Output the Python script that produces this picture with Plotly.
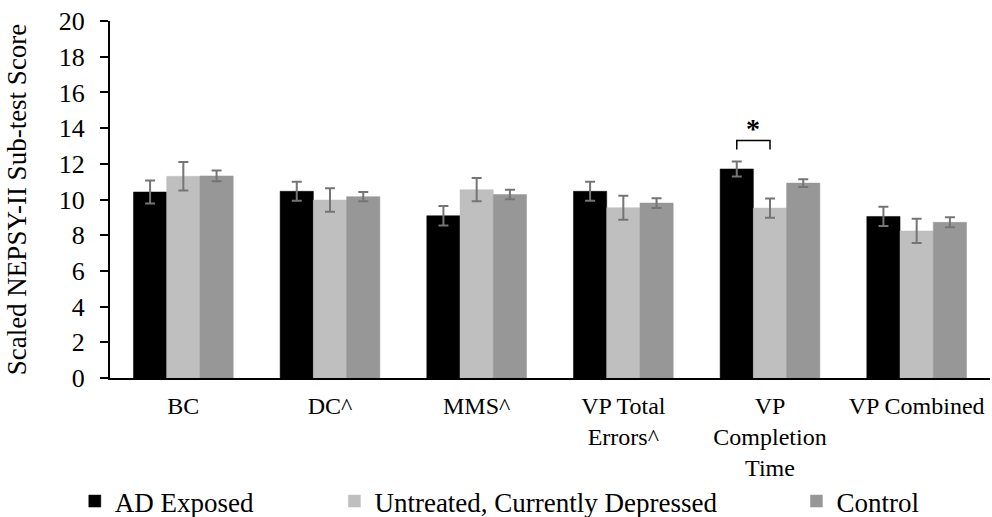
import plotly.graph_objects as go

categories = ["BC", "DC^", "MMS^", "VP Total<br>Errors^", "VP<br>Completion<br>Time", "VP Combined"]
groups = ["AD Exposed", "Untreated, Currently Depressed", "Control"]

ad_exposed = [10.42, 10.46, 9.09, 10.46, 11.71, 9.05]
ad_exposed_err = [0.64, 0.53, 0.55, 0.53, 0.42, 0.54]
untreated = [11.30, 9.97, 10.55, 9.54, 9.52, 8.24]
untreated_err = [0.80, 0.66, 0.65, 0.67, 0.54, 0.68]
control = [11.32, 10.16, 10.28, 9.80, 10.92, 8.72]
control_err = [0.30, 0.26, 0.26, 0.27, 0.22, 0.28]

colors = ["#000000", "#bfbfbf", "#979797"]
y_ticks = list(range(0, 21, 2))

# significance bracket between AD Exposed and Untreated at "VP Completion Time"
sig_category = 4
sig_bracket_y = 13.3
sig_tick_y = 12.8
sig_star_y = 13.95

FONT = "Liberation Serif"

fig = go.Figure()
series = [(ad_exposed, ad_exposed_err), (untreated, untreated_err), (control, control_err)]
legend_ids = ["legend", "legend2", "legend3"]
for name, (vals, errs), col, lg in zip(groups, series, colors, legend_ids):
    fig.add_trace(go.Bar(
        name=name,
        x=list(range(len(categories))),
        y=vals,
        marker=dict(color=col, line=dict(color=col, width=0.5)),
        error_y=dict(type="data", array=errs, visible=True,
                     color="#757575", thickness=2, width=5),
        legend=lg,
    ))

n_groups = len(groups)
group_width = 0.68
bar_w = group_width / n_groups
black_x = sig_category - bar_w
light_x = sig_category

fig.add_shape(type="path", xref="x", yref="y",
              path=f"M {black_x},{sig_tick_y} L {black_x},{sig_bracket_y} "
                   f"L {light_x},{sig_bracket_y} L {light_x},{sig_tick_y}",
              line=dict(color="#000000", width=1.5))
fig.add_annotation(x=(black_x + light_x) / 2, y=sig_star_y, xref="x", yref="y",
                   text="<b>*</b>", showarrow=False,
                   font=dict(family=FONT, size=28, color="#000000"))

legend_font = dict(family=FONT, size=27, color="#000000")
legend_common = dict(orientation="h", yanchor="middle", xanchor="left",
                     xref="paper", yref="paper",
                     font=legend_font,
                     bgcolor="rgba(0,0,0,0)", itemwidth=30,
                     tracegroupgap=0)
fig.update_layout(
    barmode="group",
    bargap=1 - group_width,
    bargroupgap=0,
    width=992, height=517,
    margin=dict(l=110, r=2, t=21, b=139, autoexpand=False),
    paper_bgcolor="#ffffff",
    plot_bgcolor="#ffffff",
    font=dict(family=FONT, size=25, color="#000000"),
    showlegend=True,
    legend=dict(x=-0.04, y=-0.346, **legend_common),
    legend2=dict(x=0.255, y=-0.346, **legend_common),
    legend3=dict(x=0.78, y=-0.346, **legend_common),
    xaxis=dict(
        tickmode="array",
        tickvals=list(range(len(categories))),
        ticktext=categories,
        range=[-0.5, len(categories) - 0.5],
        showline=True, linecolor="#000000", linewidth=2,
        ticks="", showgrid=False, zeroline=False,
        ticklabelstandoff=5,
        tickfont=dict(family=FONT, size=24, color="#000000"),
    ),
    yaxis=dict(
        range=[0, 20],
        tickvals=y_ticks,
        showline=True, linecolor="#000000", linewidth=2,
        ticks="outside", ticklen=8, tickcolor="#000000", tickwidth=1.5,
        ticklabelstandoff=10,
        showgrid=False, zeroline=False,
        tickfont=dict(family=FONT, size=26, color="#000000"),
        title=dict(text="Scaled NEPSY-II Sub-test Score",
                   font=dict(family=FONT, size=27, color="#000000"),
                   standoff=24),
    ),
)

fig.write_html("out.html")
